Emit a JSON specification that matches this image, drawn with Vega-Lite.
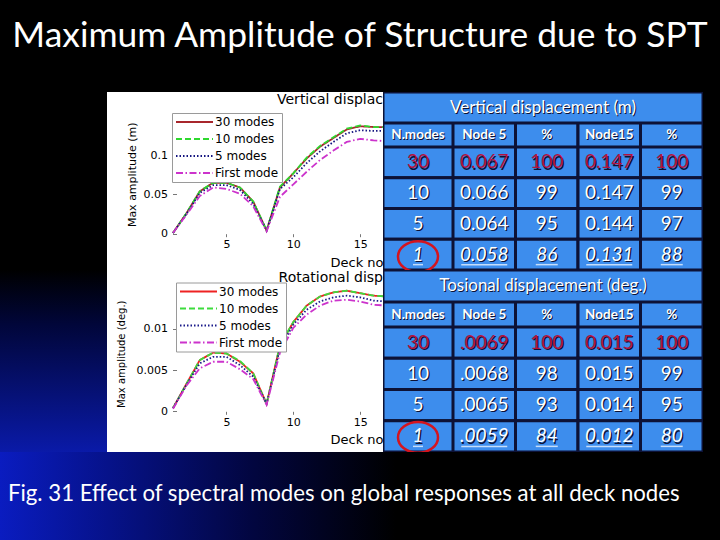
{
  "$schema": "https://vega.github.io/schema/vega-lite/v6.json",
  "background": "#000000",
  "padding": {"left": 0, "top": 18, "right": 0, "bottom": 0},
  "title": {"text": "Maximum Amplitude of Structure due to SPT", "font": "Lato", "fontSize": 35.4, "fontWeight": "normal", "color": "white", "anchor": "middle", "frame": "bounds", "baseline": "alphabetic", "offset": 10},
  "config": {"view": {"stroke": null}},
  "resolve": {"scale": {"color": "independent", "strokeDash": "independent"}, "legend": {"color": "independent", "strokeDash": "independent"}},
  "spacing": 0,
  "datasets": {
    "vert": [
      {"node": 1, "30 modes": 0.001, "10 modes": 0.001, "5 modes": 0.001, "First mode": 0.001},
      {"node": 2, "30 modes": 0.026, "10 modes": 0.026, "5 modes": 0.025, "First mode": 0.024},
      {"node": 3, "30 modes": 0.054, "10 modes": 0.054, "5 modes": 0.052, "First mode": 0.048},
      {"node": 4, "30 modes": 0.065, "10 modes": 0.065, "5 modes": 0.062, "First mode": 0.059},
      {"node": 5, "30 modes": 0.065, "10 modes": 0.065, "5 modes": 0.062, "First mode": 0.057},
      {"node": 6, "30 modes": 0.059, "10 modes": 0.059, "5 modes": 0.056, "First mode": 0.051},
      {"node": 7, "30 modes": 0.041, "10 modes": 0.041, "5 modes": 0.038, "First mode": 0.035},
      {"node": 8, "30 modes": 0.004, "10 modes": 0.004, "5 modes": 0.004, "First mode": 0.003},
      {"node": 9, "30 modes": 0.059, "10 modes": 0.060, "5 modes": 0.057, "First mode": 0.047},
      {"node": 10, "30 modes": 0.077, "10 modes": 0.077, "5 modes": 0.072, "First mode": 0.063},
      {"node": 11, "30 modes": 0.096, "10 modes": 0.097, "5 modes": 0.090, "First mode": 0.079},
      {"node": 12, "30 modes": 0.111, "10 modes": 0.112, "5 modes": 0.105, "First mode": 0.094},
      {"node": 13, "30 modes": 0.122, "10 modes": 0.123, "5 modes": 0.117, "First mode": 0.106},
      {"node": 14, "30 modes": 0.133, "10 modes": 0.134, "5 modes": 0.128, "First mode": 0.117},
      {"node": 15, "30 modes": 0.137, "10 modes": 0.138, "5 modes": 0.132, "First mode": 0.121},
      {"node": 16, "30 modes": 0.136, "10 modes": 0.136, "5 modes": 0.131, "First mode": 0.119},
      {"node": 17, "30 modes": 0.136, "10 modes": 0.136, "5 modes": 0.131, "First mode": 0.118}
    ],
    "rot": [
      {"node": 1, "30 modes": 0.0004, "10 modes": 0.0004, "5 modes": 0.0004, "First mode": 0.0003},
      {"node": 2, "30 modes": 0.0033, "10 modes": 0.0033, "5 modes": 0.0032, "First mode": 0.0031},
      {"node": 3, "30 modes": 0.0062, "10 modes": 0.0062, "5 modes": 0.0058, "First mode": 0.0052},
      {"node": 4, "30 modes": 0.0071, "10 modes": 0.0071, "5 modes": 0.0066, "First mode": 0.0060},
      {"node": 5, "30 modes": 0.0070, "10 modes": 0.0070, "5 modes": 0.0066, "First mode": 0.0060},
      {"node": 6, "30 modes": 0.0060, "10 modes": 0.0061, "5 modes": 0.0056, "First mode": 0.0051},
      {"node": 7, "30 modes": 0.0046, "10 modes": 0.0046, "5 modes": 0.0042, "First mode": 0.0039},
      {"node": 8, "30 modes": 0.0009, "10 modes": 0.0009, "5 modes": 0.0009, "First mode": 0.0008},
      {"node": 9, "30 modes": 0.0080, "10 modes": 0.0080, "5 modes": 0.0076, "First mode": 0.0071},
      {"node": 10, "30 modes": 0.0108, "10 modes": 0.0108, "5 modes": 0.0105, "First mode": 0.0101},
      {"node": 11, "30 modes": 0.0128, "10 modes": 0.0128, "5 modes": 0.0123, "First mode": 0.0117},
      {"node": 12, "30 modes": 0.0139, "10 modes": 0.0139, "5 modes": 0.0133, "First mode": 0.0128},
      {"node": 13, "30 modes": 0.0144, "10 modes": 0.0144, "5 modes": 0.0138, "First mode": 0.0134},
      {"node": 14, "30 modes": 0.0146, "10 modes": 0.0146, "5 modes": 0.0140, "First mode": 0.0135},
      {"node": 15, "30 modes": 0.0143, "10 modes": 0.0143, "5 modes": 0.0138, "First mode": 0.0133},
      {"node": 16, "30 modes": 0.0140, "10 modes": 0.0140, "5 modes": 0.0134, "First mode": 0.0129},
      {"node": 17, "30 modes": 0.0139, "10 modes": 0.0139, "5 modes": 0.0133, "First mode": 0.0128}
    ],
    "vt": [
      {"modes": "30", "n5": "0.067", "p5": "100", "n15": "0.147", "p15": "100"},
      {"modes": "10", "n5": "0.066", "p5": "99", "n15": "0.147", "p15": "99"},
      {"modes": "5", "n5": "0.064", "p5": "95", "n15": "0.144", "p15": "97"},
      {"modes": "1", "n5": "0.058", "p5": "86", "n15": "0.131", "p15": "88"}
    ],
    "rt": [
      {"modes": "30", "n5": ".0069", "p5": "100", "n15": "0.015", "p15": "100"},
      {"modes": "10", "n5": ".0068", "p5": "98", "n15": "0.015", "p15": "99"},
      {"modes": "5", "n5": ".0065", "p5": "93", "n15": "0.014", "p15": "95"},
      {"modes": "1", "n5": ".0059", "p5": "84", "n15": "0.012", "p15": "80"}
    ],
    "colhdr": [
      {"col": "n5", "t": "Node 5"},
      {"col": "p5", "t": "%"},
      {"col": "n15", "t": "Node15"},
      {"col": "p15", "t": "%"}
    ]
  },
  "vconcat": [
    {
      "spacing": 0,
      "hconcat": [
        {"width": 107, "height": 178, "data": {"values": [{}]}, "mark": {"type": "rect", "fill": "#000000", "clip": true}, "encoding": {}},
        {
          "width": 276, "height": 178,
          "view": {"fill": "white", "stroke": null},
          "title": {"text": "Vertical displac", "anchor": "end", "frame": "group", "orient": "top", "offset": -26, "baseline": "alphabetic", "font": "DejaVu Sans", "fontSize": 14, "fontWeight": "normal", "color": "black"},
          "data": {"name": "vert"},
          "transform": [{"fold": ["30 modes", "10 modes", "5 modes", "First mode"], "as": ["series", "amp"]}],
          "mark": {"type": "line", "clip": true, "strokeWidth": 1.8},
          "encoding": {
            "x": {"field": "node", "type": "quantitative", "scale": {"domain": [-3.94, 16.71], "nice": false, "zero": false},
              "axis": {"values": [5, 10, 15], "offset": -36.3, "domain": false, "grid": false, "tickSize": 3, "tickColor": "#777777", "labelFont": "DejaVu Sans", "labelFontSize": 11, "labelColor": "black", "labelPadding": 2, "title": "Deck no", "titleX": 276, "titleY": 33, "titleAlign": "right", "titleBaseline": "alphabetic", "titleFont": "DejaVu Sans", "titleFontSize": 13, "titleFontWeight": "normal", "titleColor": "black"}},
            "y": {"field": "amp", "type": "quantitative", "scale": {"domain": [-0.0463, 0.1807], "nice": false, "zero": false},
              "axis": {"values": [0, 0.05, 0.1], "format": ".2~f", "offset": -69.5, "domain": false, "grid": false, "tickSize": 4, "tickColor": "#777777", "labelFont": "DejaVu Sans", "labelFontSize": 11, "labelColor": "black", "labelPadding": 5, "title": "Max amplitude (m)", "titleX": -44.2, "titleY": 82.3, "titleAngle": -90, "titleAlign": "center", "titleBaseline": "middle", "titleFont": "DejaVu Sans", "titleFontSize": 11, "titleFontWeight": "normal", "titleColor": "black"}},
            "color": {"field": "series", "type": "nominal", "scale": {"domain": ["30 modes", "10 modes", "5 modes", "First mode"], "range": ["#a8262c", "#2ed82e", "#141480", "#cc33cc"]},
              "legend": {"orient": "none", "legendX": 172, "legendY": 21, "title": null, "fillColor": "white", "strokeColor": "#9a9a9a", "padding": 3, "symbolType": "M -1 0 H 6.4", "symbolSize": 100, "symbolStrokeWidth": 2, "labelFont": "DejaVu Sans", "labelFontSize": 12, "labelColor": "black", "labelOffset": 28, "rowPadding": 5, "labelLimit": 200}},
            "strokeDash": {"field": "series", "type": "nominal", "scale": {"domain": ["30 modes", "10 modes", "5 modes", "First mode"], "range": [[1, 0], [6, 3], [1.5, 2], [7, 2.5, 1.5, 2.5]]},
              "legend": {"orient": "none", "legendX": 172, "legendY": 21, "title": null, "fillColor": "white", "strokeColor": "#9a9a9a", "padding": 3, "symbolType": "M -1 0 H 6.4", "symbolSize": 100, "symbolStrokeWidth": 2, "labelFont": "DejaVu Sans", "labelFontSize": 12, "labelColor": "black", "labelOffset": 28, "rowPadding": 5, "labelLimit": 200}}
          }
        },
        {
          "spacing": 0,
          "vconcat": [
            {"width": 320, "height": 31,
              "data": {"values": [{"t": "Vertical displacement (m)"}]},
              "layer": [
                {"mark": {"type": "rect", "fill": "#3d8ded", "stroke": "#0d1236", "strokeWidth": 3, "clip": true}, "encoding": {}},
                {"mark": {"type": "text", "font": "Lato", "fontSize": 17, "fill": "#0d1236", "dx": 1, "dy": 1}, "encoding": {"text": {"field": "t"}}},
                {"mark": {"type": "text", "font": "Lato", "fontSize": 17, "fill": "white"}, "encoding": {"text": {"field": "t"}}}
              ]},
            {"spacing": 0, "hconcat": [
              {"width": 70, "height": 24,
                "data": {"values": [{"t": "N.modes"}]},
                "layer": [
                  {"mark": {"type": "rect", "fill": "#3d8ded", "stroke": "#0d1236", "strokeWidth": 3, "clip": true}, "encoding": {}},
                  {"mark": {"type": "text", "font": "Lato", "fontSize": 13.5, "fontWeight": "bold", "fill": "#0d1236", "dx": 1, "dy": 1}, "encoding": {"text": {"field": "t"}}},
                  {"mark": {"type": "text", "font": "Lato", "fontSize": 13.5, "fontWeight": "bold", "fill": "white"}, "encoding": {"text": {"field": "t"}}}
                ]},
              {"width": 250, "height": 24, "data": {"name": "colhdr"},
                "encoding": {"x": {"field": "col", "type": "nominal", "scale": {"domain": ["n5", "p5", "n15", "p15"], "paddingInner": 0, "paddingOuter": 0}, "axis": null}},
                "layer": [
                  {"mark": {"type": "rect", "fill": "#3d8ded", "stroke": "#0d1236", "strokeWidth": 3, "clip": true}},
                  {"mark": {"type": "text", "font": "Lato", "fontSize": 13.5, "fontWeight": "bold", "fill": "#0d1236", "dx": 1, "dy": 1}, "encoding": {"text": {"field": "t"}}},
                  {"mark": {"type": "text", "font": "Lato", "fontSize": 13.5, "fontWeight": "bold", "fill": "white"}, "encoding": {"text": {"field": "t"}}}
                ]}
            ]},
            {"spacing": 0, "hconcat": [
              {"width": 70, "height": 123, "data": {"name": "vt"},
                "transform": [{"fold": ["modes"], "as": ["col", "txt"]}],
                "encoding": {
                  "x": {"field": "col", "type": "nominal", "scale": {"domain": ["modes"], "paddingInner": 0, "paddingOuter": 0}, "axis": null},
                  "y": {"field": "modes", "type": "nominal", "scale": {"domain": ["30", "10", "5", "1"], "paddingInner": 0, "paddingOuter": 0}, "axis": null}
                },
                "layer": [
                  {"mark": {"type": "rect", "fill": "#3d8ded", "stroke": "#0d1236", "strokeWidth": 3, "clip": true}},
                  {"transform": [{"filter": "datum.modes !== '1'"}], "mark": {"type": "text", "font": "Lato", "fontSize": 19, "fill": "#0d1236", "dx": 1.2, "dy": 1.2}, "encoding": {"text": {"field": "txt"}}},
                  {"transform": [{"filter": "datum.modes !== '1'"}], "mark": {"type": "text", "font": "Lato", "fontSize": 19}, "encoding": {"text": {"field": "txt"}, "color": {"condition": {"test": "datum.modes === '30'", "value": "#b4123e"}, "value": "white"}}},
                  {"transform": [{"filter": "datum.modes === '1'"}], "mark": {"type": "text", "font": "Lato", "fontSize": 19, "fontStyle": "italic", "fill": "#0d1236", "dx": 1.2, "dy": 1.2}, "encoding": {"text": {"field": "txt"}}},
                  {"transform": [{"filter": "datum.modes === '1'"}], "mark": {"type": "text", "font": "Lato", "fontSize": 19, "fontStyle": "italic", "fill": "white"}, "encoding": {"text": {"field": "txt"}}},
                  {"transform": [{"filter": "datum.modes === '1'"}], "mark": {"type": "tick", "orient": "horizontal", "thickness": 1.5, "color": "white", "yOffset": 10, "size": 10, "clip": true}},
                  {"transform": [{"filter": "datum.modes === '1'"}], "mark": {"type": "point", "shape": "M -1 0 A 1 0.77 0 1 1 1 0 A 1 0.77 0 1 1 -1 0 Z", "size": 1600, "filled": false, "color": "#d4141e", "strokeWidth": 2.5, "yOffset": 2, "opacity": 1, "clip": true}}
                ]},
              {"width": 250, "height": 123, "data": {"name": "vt"},
                "transform": [{"fold": ["n5", "p5", "n15", "p15"], "as": ["col", "txt"]}],
                "encoding": {
                  "x": {"field": "col", "type": "nominal", "scale": {"domain": ["n5", "p5", "n15", "p15"], "paddingInner": 0, "paddingOuter": 0}, "axis": null},
                  "y": {"field": "modes", "type": "nominal", "scale": {"domain": ["30", "10", "5", "1"], "paddingInner": 0, "paddingOuter": 0}, "axis": null}
                },
                "layer": [
                  {"mark": {"type": "rect", "fill": "#3d8ded", "stroke": "#0d1236", "strokeWidth": 3, "clip": true}},
                  {"transform": [{"filter": "datum.modes !== '1'"}], "mark": {"type": "text", "font": "Lato", "fontSize": 19, "fill": "#0d1236", "dx": 1.2, "dy": 1.2}, "encoding": {"text": {"field": "txt"}}},
                  {"transform": [{"filter": "datum.modes !== '1'"}], "mark": {"type": "text", "font": "Lato", "fontSize": 19}, "encoding": {"text": {"field": "txt"}, "color": {"condition": {"test": "datum.modes === '30'", "value": "#b4123e"}, "value": "white"}}},
                  {"transform": [{"filter": "datum.modes === '1'"}], "mark": {"type": "text", "font": "Lato", "fontSize": 19, "fontStyle": "italic", "fill": "#0d1236", "dx": 1.2, "dy": 1.2}, "encoding": {"text": {"field": "txt"}}},
                  {"transform": [{"filter": "datum.modes === '1'"}], "mark": {"type": "text", "font": "Lato", "fontSize": 19, "fontStyle": "italic", "fill": "white"}, "encoding": {"text": {"field": "txt"}}},
                  {"transform": [{"filter": "datum.modes === '1'"}], "mark": {"type": "tick", "orient": "horizontal", "thickness": 1.5, "color": "white", "yOffset": 10, "clip": true}, "encoding": {"size": {"condition": {"test": "datum.col === 'p5' || datum.col === 'p15'", "value": 22}, "value": 46}}}
                ]}
            ]}
          ]
        }
      ]
    },
    {
      "spacing": 0,
      "hconcat": [
        {"width": 107, "height": 182, "data": {"values": [{}]}, "mark": {"type": "rect", "clip": true, "fill": {"gradient": "linear", "x1": 0, "y1": 0, "x2": 0, "y2": 1, "stops": [{"offset": 0, "color": "#000000"}, {"offset": 0.3, "color": "#01063a"}, {"offset": 1, "color": "#0a1aa8"}]}}, "encoding": {}},
        {
          "width": 276, "height": 182,
          "view": {"fill": "white", "stroke": null},
          "title": {"text": "Rotational disp", "anchor": "end", "frame": "group", "orient": "top", "offset": -25.5, "baseline": "alphabetic", "font": "DejaVu Sans", "fontSize": 14, "fontWeight": "normal", "color": "black"},
          "data": {"name": "rot"},
          "transform": [{"fold": ["30 modes", "10 modes", "5 modes", "First mode"], "as": ["series", "amp"]}],
          "mark": {"type": "line", "clip": true, "strokeWidth": 1.8},
          "encoding": {
            "x": {"field": "node", "type": "quantitative", "scale": {"domain": [-3.94, 16.71], "nice": false, "zero": false},
              "axis": {"values": [5, 10, 15], "offset": -40.7, "domain": false, "grid": false, "tickSize": 3, "tickColor": "#777777", "labelFont": "DejaVu Sans", "labelFontSize": 11, "labelColor": "black", "labelPadding": 2, "title": "Deck no", "titleX": 276, "titleY": 32.4, "titleAlign": "right", "titleBaseline": "alphabetic", "titleFont": "DejaVu Sans", "titleFontSize": 13, "titleFontWeight": "normal", "titleColor": "black"}},
            "y": {"field": "amp", "type": "quantitative", "scale": {"domain": [-0.004927, 0.017107], "nice": false, "zero": false},
              "axis": {"values": [0, 0.005, 0.01], "format": ".3~f", "offset": -69.5, "domain": false, "grid": false, "tickSize": 4, "tickColor": "#777777", "labelFont": "DejaVu Sans", "labelFontSize": 11, "labelColor": "black", "labelPadding": 5, "title": "Max amplitude (deg.)", "titleX": -55.5, "titleY": 83.7, "titleAngle": -90, "titleAlign": "center", "titleBaseline": "middle", "titleFont": "DejaVu Sans", "titleFontSize": 10, "titleFontWeight": "normal", "titleColor": "black"}},
            "color": {"field": "series", "type": "nominal", "scale": {"domain": ["30 modes", "10 modes", "5 modes", "First mode"], "range": ["#ee2222", "#3ddc3d", "#1a1a8a", "#cc33cc"]},
              "legend": {"orient": "none", "legendX": 176, "legendY": 12.5, "title": null, "fillColor": "white", "strokeColor": "#9a9a9a", "padding": 3, "symbolType": "M -1 0 H 6.4", "symbolSize": 100, "symbolStrokeWidth": 2, "labelFont": "DejaVu Sans", "labelFontSize": 12, "labelColor": "black", "labelOffset": 28, "rowPadding": 5, "labelLimit": 200}},
            "strokeDash": {"field": "series", "type": "nominal", "scale": {"domain": ["30 modes", "10 modes", "5 modes", "First mode"], "range": [[1, 0], [6, 3], [1.5, 2], [7, 2.5, 1.5, 2.5]]},
              "legend": {"orient": "none", "legendX": 176, "legendY": 12.5, "title": null, "fillColor": "white", "strokeColor": "#9a9a9a", "padding": 3, "symbolType": "M -1 0 H 6.4", "symbolSize": 100, "symbolStrokeWidth": 2, "labelFont": "DejaVu Sans", "labelFontSize": 12, "labelColor": "black", "labelOffset": 28, "rowPadding": 5, "labelLimit": 200}}
          }
        },
        {
          "spacing": 0,
          "vconcat": [
            {"width": 320, "height": 32,
              "data": {"values": [{"t": "Tosional displacement (deg.)"}]},
              "layer": [
                {"mark": {"type": "rect", "fill": "#3d8ded", "stroke": "#0d1236", "strokeWidth": 3, "clip": true}, "encoding": {}},
                {"mark": {"type": "text", "font": "Lato", "fontSize": 17, "fill": "#0d1236", "dx": 1, "dy": 1}, "encoding": {"text": {"field": "t"}}},
                {"mark": {"type": "text", "font": "Lato", "fontSize": 17, "fill": "white"}, "encoding": {"text": {"field": "t"}}}
              ]},
            {"spacing": 0, "hconcat": [
              {"width": 70, "height": 25,
                "data": {"values": [{"t": "N.modes"}]},
                "layer": [
                  {"mark": {"type": "rect", "fill": "#3d8ded", "stroke": "#0d1236", "strokeWidth": 3, "clip": true}, "encoding": {}},
                  {"mark": {"type": "text", "font": "Lato", "fontSize": 13.5, "fontWeight": "bold", "fill": "#0d1236", "dx": 1, "dy": 1}, "encoding": {"text": {"field": "t"}}},
                  {"mark": {"type": "text", "font": "Lato", "fontSize": 13.5, "fontWeight": "bold", "fill": "white"}, "encoding": {"text": {"field": "t"}}}
                ]},
              {"width": 250, "height": 25, "data": {"name": "colhdr"},
                "encoding": {"x": {"field": "col", "type": "nominal", "scale": {"domain": ["n5", "p5", "n15", "p15"], "paddingInner": 0, "paddingOuter": 0}, "axis": null}},
                "layer": [
                  {"mark": {"type": "rect", "fill": "#3d8ded", "stroke": "#0d1236", "strokeWidth": 3, "clip": true}},
                  {"mark": {"type": "text", "font": "Lato", "fontSize": 13.5, "fontWeight": "bold", "fill": "#0d1236", "dx": 1, "dy": 1}, "encoding": {"text": {"field": "t"}}},
                  {"mark": {"type": "text", "font": "Lato", "fontSize": 13.5, "fontWeight": "bold", "fill": "white"}, "encoding": {"text": {"field": "t"}}}
                ]}
            ]},
            {"spacing": 0, "hconcat": [
              {"width": 70, "height": 125, "data": {"name": "rt"},
                "transform": [{"fold": ["modes"], "as": ["col", "txt"]}],
                "encoding": {
                  "x": {"field": "col", "type": "nominal", "scale": {"domain": ["modes"], "paddingInner": 0, "paddingOuter": 0}, "axis": null},
                  "y": {"field": "modes", "type": "nominal", "scale": {"domain": ["30", "10", "5", "1"], "paddingInner": 0, "paddingOuter": 0}, "axis": null}
                },
                "layer": [
                  {"mark": {"type": "rect", "fill": "#3d8ded", "stroke": "#0d1236", "strokeWidth": 3, "clip": true}},
                  {"transform": [{"filter": "datum.modes !== '1'"}], "mark": {"type": "text", "font": "Lato", "fontSize": 19, "fill": "#0d1236", "dx": 1.2, "dy": 1.2}, "encoding": {"text": {"field": "txt"}}},
                  {"transform": [{"filter": "datum.modes !== '1'"}], "mark": {"type": "text", "font": "Lato", "fontSize": 19}, "encoding": {"text": {"field": "txt"}, "color": {"condition": {"test": "datum.modes === '30'", "value": "#b4123e"}, "value": "white"}}},
                  {"transform": [{"filter": "datum.modes === '1'"}], "mark": {"type": "text", "font": "Lato", "fontSize": 19, "fontStyle": "italic", "fill": "#0d1236", "dx": 1.2, "dy": 1.2}, "encoding": {"text": {"field": "txt"}}},
                  {"transform": [{"filter": "datum.modes === '1'"}], "mark": {"type": "text", "font": "Lato", "fontSize": 19, "fontStyle": "italic", "fill": "white"}, "encoding": {"text": {"field": "txt"}}},
                  {"transform": [{"filter": "datum.modes === '1'"}], "mark": {"type": "tick", "orient": "horizontal", "thickness": 1.5, "color": "white", "yOffset": 10, "size": 10, "clip": true}},
                  {"transform": [{"filter": "datum.modes === '1'"}], "mark": {"type": "point", "shape": "M -1 0 A 1 0.77 0 1 1 1 0 A 1 0.77 0 1 1 -1 0 Z", "size": 1600, "filled": false, "color": "#d4141e", "strokeWidth": 2.5, "yOffset": 1, "opacity": 1, "clip": true}}
                ]},
              {"width": 250, "height": 125, "data": {"name": "rt"},
                "transform": [{"fold": ["n5", "p5", "n15", "p15"], "as": ["col", "txt"]}],
                "encoding": {
                  "x": {"field": "col", "type": "nominal", "scale": {"domain": ["n5", "p5", "n15", "p15"], "paddingInner": 0, "paddingOuter": 0}, "axis": null},
                  "y": {"field": "modes", "type": "nominal", "scale": {"domain": ["30", "10", "5", "1"], "paddingInner": 0, "paddingOuter": 0}, "axis": null}
                },
                "layer": [
                  {"mark": {"type": "rect", "fill": "#3d8ded", "stroke": "#0d1236", "strokeWidth": 3, "clip": true}},
                  {"transform": [{"filter": "datum.modes !== '1'"}], "mark": {"type": "text", "font": "Lato", "fontSize": 19, "fill": "#0d1236", "dx": 1.2, "dy": 1.2}, "encoding": {"text": {"field": "txt"}}},
                  {"transform": [{"filter": "datum.modes !== '1'"}], "mark": {"type": "text", "font": "Lato", "fontSize": 19}, "encoding": {"text": {"field": "txt"}, "color": {"condition": {"test": "datum.modes === '30'", "value": "#b4123e"}, "value": "white"}}},
                  {"transform": [{"filter": "datum.modes === '1'"}], "mark": {"type": "text", "font": "Lato", "fontSize": 19, "fontStyle": "italic", "fill": "#0d1236", "dx": 1.2, "dy": 1.2}, "encoding": {"text": {"field": "txt"}}},
                  {"transform": [{"filter": "datum.modes === '1'"}], "mark": {"type": "text", "font": "Lato", "fontSize": 19, "fontStyle": "italic", "fill": "white"}, "encoding": {"text": {"field": "txt"}}},
                  {"transform": [{"filter": "datum.modes === '1'"}], "mark": {"type": "tick", "orient": "horizontal", "thickness": 1.5, "color": "white", "yOffset": 10, "clip": true}, "encoding": {"size": {"condition": {"test": "datum.col === 'p5' || datum.col === 'p15'", "value": 22}, "value": 46}}}
                ]}
            ]}
          ]
        }
      ]
    },
    {
      "width": 720, "height": 90,
      "data": {"values": [{}]},
      "mark": {"type": "rect", "clip": true, "fill": {"gradient": "linear", "x1": 0, "y1": 0, "x2": 1, "y2": 0, "stops": [{"offset": 0, "color": "#0a1cc0"}, {"offset": 0.15, "color": "#06128a"}, {"offset": 0.35, "color": "#020640"}, {"offset": 0.55, "color": "#000000"}]}},
      "encoding": {},
      "title": {"text": "Fig. 31 Effect of spectral modes on global responses at all deck nodes", "anchor": "start", "frame": "group", "orient": "top", "offset": -71, "baseline": "alphabetic", "dx": 8, "font": "Lato", "fontSize": 22.2, "fontWeight": "normal", "color": "white"}
    }
  ]
}
